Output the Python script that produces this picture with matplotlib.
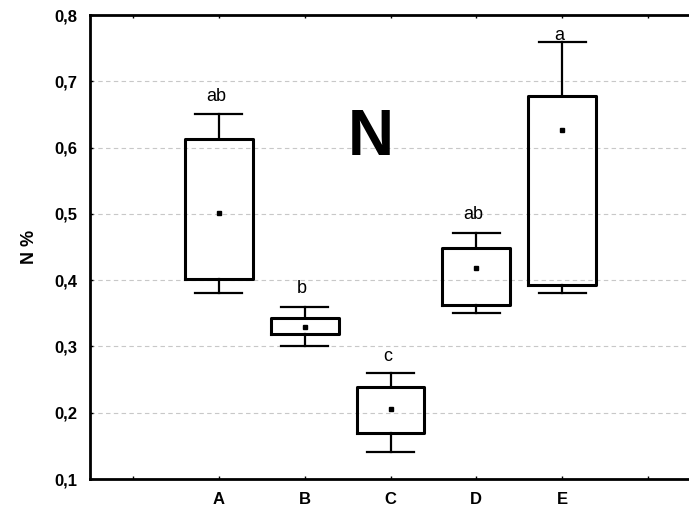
import numpy as np
import matplotlib
matplotlib.use('Agg')
from matplotlib import pyplot as plt

plt.rcParams['font.family'] = ['Liberation Sans', 'DejaVu Sans']

# values (N %)
categories = ['A', 'B', 'C', 'D', 'E']
point = [0.501, 0.329, 0.205, 0.418, 0.626]
box_low = [0.402, 0.318, 0.169, 0.362, 0.392]
box_high = [0.613, 0.343, 0.239, 0.449, 0.678]
whisker_low = [0.381, 0.300, 0.141, 0.351, 0.381]
whisker_high = [0.650, 0.360, 0.260, 0.471, 0.760]
letters = ['ab', 'b', 'c', 'ab', 'a']
letter_offset = [7, 7, 6, 7, -2]   # points above whisker cap
y_ticks = [0.1, 0.2, 0.3, 0.4, 0.5, 0.6, 0.7, 0.8]


fig = plt.figure(figsize=(6.89, 5.14), dpi=100)
ax = fig.add_axes([90 / 689, 35 / 514, 601 / 689, 464 / 514])

positions = np.arange(1, len(categories) + 1)
stats = []
for i, cat in enumerate(categories):
    stats.append(dict(label=cat, med=point[i], q1=box_low[i], q3=box_high[i],
                      whislo=whisker_low[i], whishi=whisker_high[i], fliers=[]))

ax.bxp(stats, positions=positions, widths=0.79, capwidths=0.55,
       showfliers=False, patch_artist=False,
       boxprops=dict(color='black', linewidth=2.2),
       whiskerprops=dict(color='black', linewidth=1.6),
       capprops=dict(color='black', linewidth=1.6),
       medianprops=dict(linewidth=0))
ax.plot(positions, point, 's', color='black', markersize=3.5, zorder=5)

for x, y, lab, off in zip(positions, whisker_high, letters, letter_offset):
    ax.annotate(lab, (x, y), xytext=(-2, off), textcoords='offset points',
                ha='center', va='bottom', fontsize=13)

ax.text(2.77, 0.615, 'N', fontsize=46, fontweight='bold', ha='center', va='center')

ax.set_xlim(-0.5, 6.5)
ax.set_ylim(0.1, 0.8)
ax.set_xticks(np.arange(0, 7))
ax.set_xticklabels([''] + categories + [''], fontsize=12, fontweight='bold')
ax.set_yticks(y_ticks)
ax.set_yticklabels([f'{v:.1f}'.replace('.', ',') for v in y_ticks],
                   fontsize=12, fontweight='bold')
ax.tick_params(direction='in', length=2, width=1, top=True, right=False)
ax.tick_params(axis='x', pad=9)
ax.tick_params(axis='y', pad=9)
ax.set_ylabel('N %', fontsize=13, fontweight='bold', labelpad=12)

ax.grid(axis='y', linestyle=(0, (4, 3)), color='#c8c8c8', linewidth=0.8)
ax.set_axisbelow(True)
for side in ['left', 'bottom', 'top']:
    ax.spines[side].set_linewidth(2)
ax.spines['right'].set_visible(False)

fig.savefig('out.png', dpi=100)
